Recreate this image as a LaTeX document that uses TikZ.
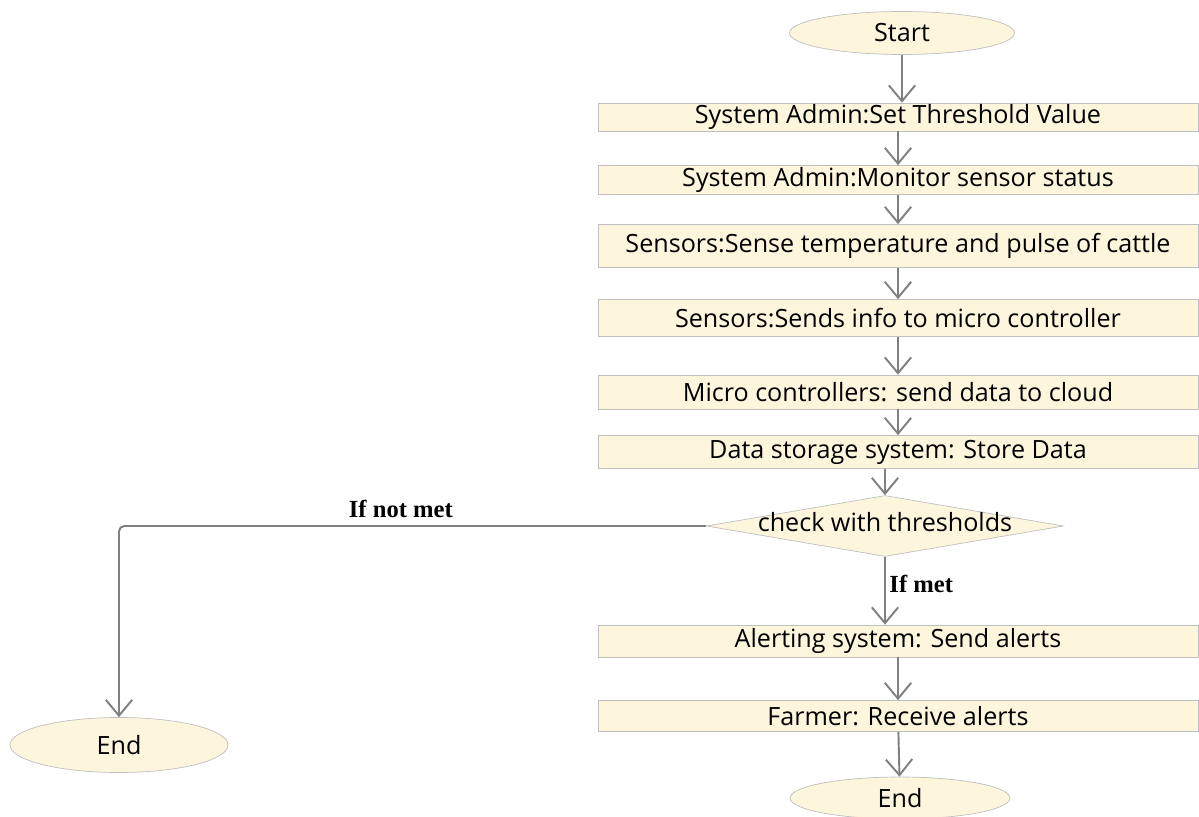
\documentclass[tikz,border=0pt]{standalone}
\usepackage{fontspec}
\setmainfont{Open Sans}
\newfontfamily\lblfont{Liberation Serif}
\usetikzlibrary{arrows.meta,shapes.geometric,positioning,calc}

\begin{document}
\begin{tikzpicture}[
  font=\fontsize{14.3}{16}\selectfont,
  % Node Styles
  terminal/.style={draw=black!25, ellipse, fill=yellow!45!orange!12!white, minimum width=4.5cm, minimum height=0.86cm, inner sep=0pt},
  step_box/.style={draw=black!25, rectangle, fill=yellow!45!orange!12!white, minimum width=12cm, inner sep=0pt, align=center},
  decision/.style={draw=black!25, diamond, aspect=5.85, fill=yellow!45!orange!12!white, minimum width=7.14cm, minimum height=1.22cm, inner sep=0pt, text height=0.25cm, text depth=0.05cm},
  % Line Styles
  flow_line/.style={-{Straight Barb[length=9pt,width=15pt]}, line width=1.1pt, black!50},
  % Label Styles
  lbl/.style={font=\lblfont\bfseries\fontsize{14}{16}\selectfont, text=black, inner sep=2pt}
]
\useasboundingbox (0,0) rectangle (23.98,-16.34);

% ================= NODES =================

% --- Main Column ---
\node[terminal] (start) at (18.04,-0.66) {Start};
\node[step_box, minimum height=0.56cm] (setthr)  at (17.96,-2.34) {System Admin:Set Threshold Value};
\node[step_box, minimum height=0.58cm] (monitor) at (17.96,-3.60) {System Admin:Monitor sensor status};
\node[step_box, minimum height=0.86cm] (sense)   at (17.96,-4.92) {Sensors:Sense temperature and pulse of cattle};
\node[step_box, minimum height=0.74cm] (sendmc)  at (17.96,-6.36) {Sensors:Sends info to micro controller};
\node[step_box, minimum height=0.68cm] (cloud)   at (17.96,-7.84) {Micro controllers: send data to cloud};
\node[step_box, minimum height=0.66cm] (store)   at (17.96,-9.04) {Data storage system: Store Data};

% --- Decision ---
\node[decision] (check) at (17.70,-10.52) {check with thresholds};

% --- Alert Branch ---
\node[step_box, minimum height=0.64cm] (alert)   at (17.96,-12.82) {Alerting system: Send alerts};
\node[step_box, minimum height=0.62cm] (farmer)  at (17.96,-14.32) {Farmer: Receive alerts};
\node[terminal, minimum width=4.4cm, minimum height=0.84cm] (end_met) at (18.00,-15.96) {End};

% --- Not Met Branch ---
\node[terminal, minimum width=4.36cm, minimum height=1.1cm] (end_not) at (2.38,-14.90) {End};

% ================= CONNECTIONS =================

\draw[flow_line] (start) -- (start |- setthr.north);
\draw[flow_line] (setthr) -- (monitor);
\draw[flow_line] (monitor) -- (sense);
\draw[flow_line] (sense) -- (sendmc);
\draw[flow_line] (sendmc) -- (cloud);
\draw[flow_line] (cloud) -- (store);
\draw[flow_line] (store.south -| check.north) -- (check.north);

% If met
\draw[flow_line] (check.south) -- node[lbl, right, pos=0.4] {If met} (check.south |- alert.north);
\draw[flow_line] (alert) -- (farmer);
\draw[flow_line] (farmer) -- (end_met);

% If not met
\draw[flow_line, rounded corners=3pt] (check.west) -| node[lbl, above, pos=0.26, yshift=2pt] {If not met} (end_not.north);

\end{tikzpicture}
\end{document}
